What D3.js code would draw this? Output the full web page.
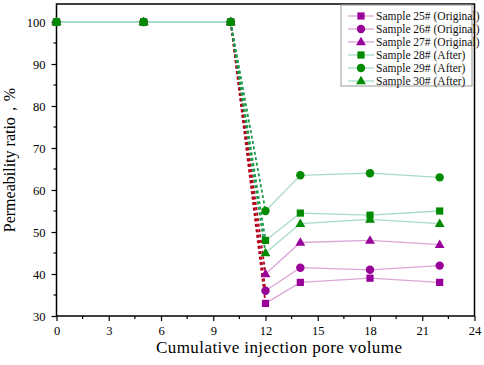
<!DOCTYPE html>
<html>
<head>
<meta charset="utf-8">
<style>
  body { margin: 0; background: #fff; }
  text { font-family: "Liberation Serif", "Times New Roman", serif; }
</style>
</head>
<body>
<svg width="484" height="365"></svg>
<script src="https://d3js.org/d3.v7.min.js"></script>
<script>
// data
var xValues = [0, 5, 10, 12, 14, 18, 22];
var seriesNames = ["Sample 25# (Original)", "Sample 26# (Original)", "Sample 27# (Original)",
                   "Sample 28# (After)", "Sample 29# (After)", "Sample 30# (After)"];
var s25 = [100, 100, 100, 33, 38, 39, 38];
var s26 = [100, 100, 100, 36, 41.5, 41, 42];
var s27 = [100, 100, 100, 40, 47.5, 48, 47];
var s28 = [100, 100, 100, 48, 54.5, 54, 55];
var s29 = [100, 100, 100, 55, 63.5, 64, 63];
var s30 = [100, 100, 100, 45, 52, 53, 52];
var seriesValues = [s25, s26, s27, s28, s29, s30];
var xTicks = [0, 3, 6, 9, 12, 15, 18, 21, 24];
var yTicks = [30, 40, 50, 60, 70, 80, 90, 100];

var shapes = ["square", "circle", "triangle", "square", "circle", "triangle"];
var markColor = ["#990099", "#990099", "#990099", "#008a00", "#008a00", "#008a00"];
var lineColor = ["#dba6d6", "#dba6d6", "#dba6d6", "#a6dcc4", "#a6dcc4", "#a6dcc4"];
var dashColor = ["#b3001b", "#b3001b", "#b3001b", "#1a9a4a", "#1a9a4a", "#1a9a4a"];

var svg = d3.select("svg");
var mLeft = 56.5, mRight = 474.5, mTop = 4, mBottom = 316;

var x = d3.scaleLinear().domain([0, 24]).range([mLeft, mRight]);
var y = d3.scaleLinear().domain([30, 30 + (mBottom - mTop) / 4.2]).range([mBottom, mTop]);

// frame
svg.append("rect")
  .attr("x", mLeft).attr("y", mTop)
  .attr("width", mRight - mLeft).attr("height", mBottom - mTop)
  .attr("fill", "none").attr("stroke", "#000").attr("stroke-width", 1.5);

// x axis
var xAxis = svg.append("g").attr("transform", "translate(0," + mBottom + ")");
xAxis.call(d3.axisBottom(x).tickValues(xTicks).tickSize(5).tickPadding(5).tickFormat(d3.format("d")));
xAxis.append("g").selectAll("line")
  .data(d3.range(1.5, 24, 3))
  .enter().append("line")
  .attr("x1", function (d) { return x(d); }).attr("x2", function (d) { return x(d); })
  .attr("y1", 0).attr("y2", 3).attr("stroke", "#000").attr("stroke-width", 1.2);

// y axis
var yAxis = svg.append("g").attr("transform", "translate(" + mLeft + ",0)");
yAxis.call(d3.axisLeft(y).tickValues(yTicks).tickSize(5).tickPadding(6).tickFormat(d3.format("d")));
yAxis.append("g").selectAll("line")
  .data(d3.range(35, 105, 10))
  .enter().append("line")
  .attr("y1", function (d) { return y(d); }).attr("y2", function (d) { return y(d); })
  .attr("x1", 0).attr("x2", -3).attr("stroke", "#000").attr("stroke-width", 1.2);

svg.selectAll(".domain").remove();
svg.selectAll(".tick line").attr("stroke-width", 1.2);
svg.selectAll(".tick text")
  .attr("font-size", 12.5).attr("fill", "#000")
  .style("font-family", "'Liberation Serif', serif");

// axis titles
svg.append("text")
  .attr("x", 279).attr("y", 353)
  .attr("text-anchor", "middle").attr("font-size", 17)
  .attr("textLength", 246).attr("lengthAdjust", "spacing")
  .text("Cumulative injection pore volume");
svg.append("text")
  .attr("transform", "translate(15," + ((mTop + mBottom) / 2) + ") rotate(-90)")
  .attr("text-anchor", "middle").attr("font-size", 16)
  .text("Permeability ratio，%");

var solid = d3.line().x(function (d) { return x(d[0]); }).y(function (d) { return y(d[1]); });

function marker(g, shape, cx, cy, color) {
  if (shape === "square") {
    g.append("rect").attr("x", cx - 3.6).attr("y", cy - 3.6)
      .attr("width", 7.2).attr("height", 7.2).attr("fill", color);
  } else if (shape === "circle") {
    g.append("circle").attr("cx", cx).attr("cy", cy).attr("r", 4.2).attr("fill", color);
  } else {
    g.append("path")
      .attr("d", d3.symbol().type(d3.symbolTriangle).size(42)())
      .attr("transform", "translate(" + cx + "," + (cy + 0.5) + ")")
      .attr("fill", color);
  }
}

var plot = svg.append("g");
seriesValues.forEach(function (vals, i) {
  var pts = xValues.map(function (xv, j) { return [xv, vals[j]]; });
  plot.append("path").attr("d", solid(pts.slice(0, 3)))
    .attr("fill", "none").attr("stroke", lineColor[i]).attr("stroke-width", 1.3);
  plot.append("path").attr("d", solid(pts.slice(3)))
    .attr("fill", "none").attr("stroke", lineColor[i]).attr("stroke-width", 1.3);
});
seriesValues.forEach(function (vals, i) {
  var pts = xValues.map(function (xv, j) { return [xv, vals[j]]; });
  plot.append("path").attr("d", solid(pts.slice(2, 4)))
    .attr("fill", "none").attr("stroke", dashColor[i]).attr("stroke-width", 1.8)
    .attr("stroke-dasharray", "3,2.5");
});
seriesValues.forEach(function (vals, i) {
  var g = plot.append("g");
  xValues.forEach(function (xv, j) {
    marker(g, shapes[i], x(xv), y(vals[j]), markColor[i]);
  });
});

// legend
var lg = svg.append("g");
lg.append("rect").attr("x", 341).attr("y", 5).attr("width", 131).attr("height", 81)
  .attr("fill", "#fff").attr("stroke", "#999").attr("stroke-width", 1);
seriesNames.forEach(function (name, i) {
  var ly = 16 + i * 13;
  lg.append("line").attr("x1", 348).attr("x2", 374).attr("y1", ly).attr("y2", ly)
    .attr("stroke", lineColor[i]).attr("stroke-width", 1.3);
  marker(lg, shapes[i], 361, ly, markColor[i]);
  lg.append("text").attr("x", 376).attr("y", ly + 4)
    .attr("font-size", 11.5).attr("fill", "#111").text(name);
});
</script>
</body>
</html>
